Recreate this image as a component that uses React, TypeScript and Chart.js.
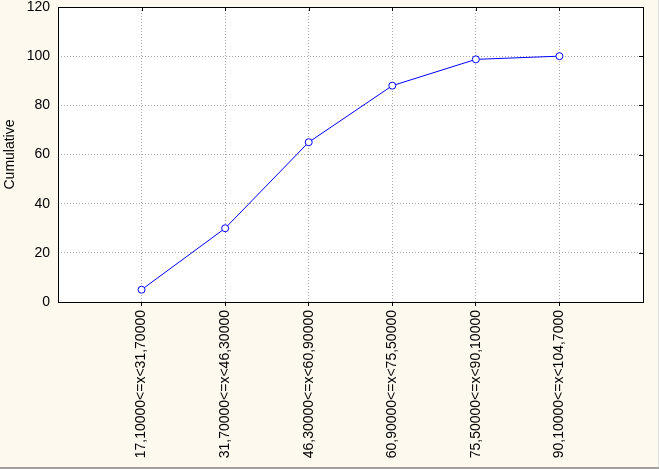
import React, { useEffect, useRef } from "react";
import { Chart, registerables } from "chart.js";

Chart.register(...registerables);

const categories = [
  "17,10000<=x<31,70000",
  "31,70000<=x<46,30000",
  "46,30000<=x<60,90000",
  "60,90000<=x<75,50000",
  "75,50000<=x<90,10000",
  "90,10000<=x<104,7000",
];
const cumulative = [5, 30, 65, 88, 98.7, 100];
const yTickValues = [0, 20, 40, 60, 80, 100, 120];
const yTitle = "Cumulative";

const FONT = "Arial, 'Liberation Sans', sans-serif";

const framePlugin = {
  id: "frame",
  beforeDraw(chart: any) {
    const { ctx, width, height, chartArea } = chart;
    ctx.save();
    ctx.fillStyle = "#fdf9ee";
    ctx.fillRect(0, 0, width, height);
    ctx.fillStyle = "#ffffff";
    ctx.fillRect(chartArea.left, chartArea.top, chartArea.right - chartArea.left, chartArea.bottom - chartArea.top);
    ctx.fillStyle = "#a0a0a0";
    ctx.fillRect(0, height - 2, width, 2);
    ctx.fillStyle = "#dcdcdc";
    ctx.fillRect(width - 1, 0, 1, height - 2);
    ctx.restore();
  },
  afterDraw(chart: any) {
    const { ctx, chartArea } = chart;
    const xs = chart.scales.x;
    const ys = chart.scales.y;
    ctx.save();
    ctx.strokeStyle = "#000000";
    ctx.lineWidth = 1;
    ctx.beginPath();
    categories.forEach((_, i) => {
      const x = Math.round(xs.getPixelForValue(i)) + 0.5;
      ctx.moveTo(x, chartArea.top);
      ctx.lineTo(x, chartArea.top + 4);
    });
    yTickValues.forEach((v) => {
      const y = Math.round(ys.getPixelForValue(v)) + 0.5;
      ctx.moveTo(chartArea.right - 4, y);
      ctx.lineTo(chartArea.right, y);
    });
    ctx.stroke();
    ctx.strokeRect(
      Math.round(chartArea.left) + 0.5,
      Math.round(chartArea.top) + 0.5,
      Math.round(chartArea.right - chartArea.left),
      Math.round(chartArea.bottom - chartArea.top)
    );
    ctx.restore();
  },
};

export default function App() {
  const ref = useRef<HTMLCanvasElement | null>(null);

  useEffect(() => {
    if (!ref.current) return;
    const chart = new Chart(ref.current, {
      type: "line",
      data: {
        datasets: [
          {
            data: cumulative.map((v, i) => ({ x: i, y: v })),
            borderColor: "#0000ff",
            borderWidth: 1,
            pointRadius: 3.5,
            pointBackgroundColor: "#ffffff",
            pointBorderColor: "#0000ff",
            pointBorderWidth: 1,
            tension: 0,
            fill: false,
          },
        ],
      },
      options: {
        animation: false,
        responsive: false,
        maintainAspectRatio: false,
        layout: { padding: { top: 7, right: 16, bottom: 0, left: 0 } },
        plugins: {
          legend: { display: false },
          tooltip: { enabled: false },
        },
        scales: {
          x: {
            type: "linear",
            min: -1,
            max: 6,
            afterBuildTicks: (s: any) => {
              s.ticks = categories.map((_, i) => ({ value: i }));
            },
            afterFit: (s: any) => {
              s.height = 167;
              s.paddingLeft = 0;
              s.paddingRight = 0;
            },
            ticks: {
              autoSkip: false,
              maxRotation: 90,
              minRotation: 90,
              padding: 4,
              color: "#000000",
              font: { family: FONT, size: 14 },
              callback: (v: any) => categories[v] ?? "",
            },
            grid: {
              color: "#a8a8a8",
              drawTicks: true,
              tickLength: 4,
              tickColor: "#000000",
            },
            border: { display: false, dash: [1, 2] },
          },
          y: {
            min: 0,
            max: 120,
            afterBuildTicks: (s: any) => {
              s.ticks = yTickValues.map((v) => ({ value: v }));
            },
            afterFit: (s: any) => {
              s.width = 58;
              s.paddingTop = 0;
              s.paddingBottom = 0;
            },
            ticks: {
              padding: 8,
              color: "#000000",
              font: { family: FONT, size: 14 },
            },
            grid: {
              color: "#a8a8a8",
              drawTicks: false,
            },
            border: { display: false, dash: [1, 2] },
            title: {
              display: true,
              text: yTitle,
              color: "#000000",
              font: { family: FONT, size: 14 },
              padding: { top: 2, bottom: 0 },
            },
          },
        },
      },
      plugins: [framePlugin],
    } as any);
    return () => chart.destroy();
  }, []);

  return (
    <div style={{ position: "fixed", left: 0, top: 0, width: 659, height: 469 }}>
      <canvas ref={ref} width={659} height={469} style={{ width: 659, height: 469, display: "block" }} />
    </div>
  );
}
